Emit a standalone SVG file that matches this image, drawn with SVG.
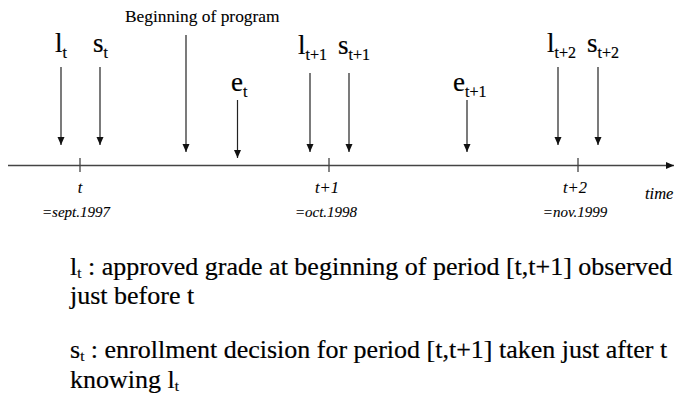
<svg xmlns="http://www.w3.org/2000/svg" width="675" height="396" viewBox="0 0 675 396">
<style>
text{font-family:"Liberation Serif","Times New Roman",serif;fill:#000;stroke:#000;stroke-width:0.2}
.big{font-size:27px}
.sub{font-size:16px}
.hdr{font-size:17.4px;stroke-width:0.1}
.it{font-size:16.5px;font-style:italic;stroke-width:0.1}
.dt{font-size:15px;font-style:italic;stroke-width:0.1}
.body{font-size:26px}
.bsub{font-size:15px}
.ln{stroke:#222;stroke-width:1.2;fill:none}
.ax{stroke:#444;stroke-width:1.3;fill:none}
</style>
<defs>
<marker id="ah" markerUnits="userSpaceOnUse" markerWidth="9" markerHeight="8" refX="8" refY="3.5" orient="auto">
<path d="M0,0 L8,3.5 L0,7 z" fill="#111"/>
</marker>
</defs>
<rect width="675" height="396" fill="#fff"/>
<g id="connectors">
<line class="ax" x1="8" y1="165.5" x2="674" y2="165.5" marker-end="url(#ah)"/>
<line class="ax" x1="80" y1="158" x2="80" y2="172"/>
<line class="ax" x1="329" y1="158" x2="329" y2="172"/>
<line class="ax" x1="578" y1="158" x2="578" y2="172"/>
<line class="ln" x1="61" y1="67" x2="61" y2="145" marker-end="url(#ah)"/>
<line class="ln" x1="100" y1="67" x2="100" y2="145" marker-end="url(#ah)"/>
<line class="ln" x1="186" y1="35" x2="186" y2="152" marker-end="url(#ah)"/>
<line class="ln" x1="237.5" y1="100" x2="237.5" y2="158" marker-end="url(#ah)"/>
<line class="ln" x1="310" y1="73" x2="310" y2="152" marker-end="url(#ah)"/>
<line class="ln" x1="349" y1="73" x2="349" y2="152" marker-end="url(#ah)"/>
<line class="ln" x1="467" y1="100" x2="467" y2="152" marker-end="url(#ah)"/>
<line class="ln" x1="558" y1="67" x2="558" y2="145" marker-end="url(#ah)"/>
<line class="ln" x1="598" y1="67" x2="598" y2="145" marker-end="url(#ah)"/>
</g>
<g id="n-begin"><text class="hdr" x="125" y="22">Beginning of program</text></g>
<g id="n-lt"><text class="big" x="55" y="52">l<tspan class="sub" dy="6">t</tspan></text></g>
<g id="n-st"><text class="big" x="93" y="52">s<tspan class="sub" dy="6">t</tspan></text></g>
<g id="n-et"><text class="big" x="231" y="91">e<tspan class="sub" dy="6">t</tspan></text></g>
<g id="n-lt1"><text class="big" x="298" y="54">l<tspan class="sub" dy="6">t+1</tspan></text></g>
<g id="n-st1"><text class="big" x="338" y="54">s<tspan class="sub" dy="6">t+1</tspan></text></g>
<g id="n-et1"><text class="big" x="453" y="91">e<tspan class="sub" dy="6">t+1</tspan></text></g>
<g id="n-lt2"><text class="big" x="547" y="52">l<tspan class="sub" dy="6">t+2</tspan></text></g>
<g id="n-st2"><text class="big" x="587" y="52">s<tspan class="sub" dy="6">t+2</tspan></text></g>
<g id="axis-labels">
<text class="it" text-anchor="middle" x="80" y="193">t</text>
<text class="it" text-anchor="middle" x="327" y="193">t+1</text>
<text class="it" text-anchor="middle" x="575" y="193">t+2</text>
<text class="it" x="645" y="199">time</text>
<text class="dt" text-anchor="middle" x="76" y="217">=sept.1997</text>
<text class="dt" text-anchor="middle" x="326" y="217">=oct.1998</text>
<text class="dt" text-anchor="middle" x="575" y="217">=nov.1999</text>
</g>
<g id="legend">
<text class="body" x="70" y="275">l<tspan class="bsub" dy="3">t</tspan><tspan dy="-3"> : approved grade at beginning of period [t,t+1] observed</tspan></text>
<text class="body" x="70" y="304">just before t</text>
<text class="body" x="70" y="358">s<tspan class="bsub" dy="3">t</tspan><tspan dy="-3"> : enrollment decision for period [t,t+1] taken just after t</tspan></text>
<text class="body" x="70" y="388">knowing l<tspan class="bsub" dy="3">t</tspan></text>
</g>
</svg>
